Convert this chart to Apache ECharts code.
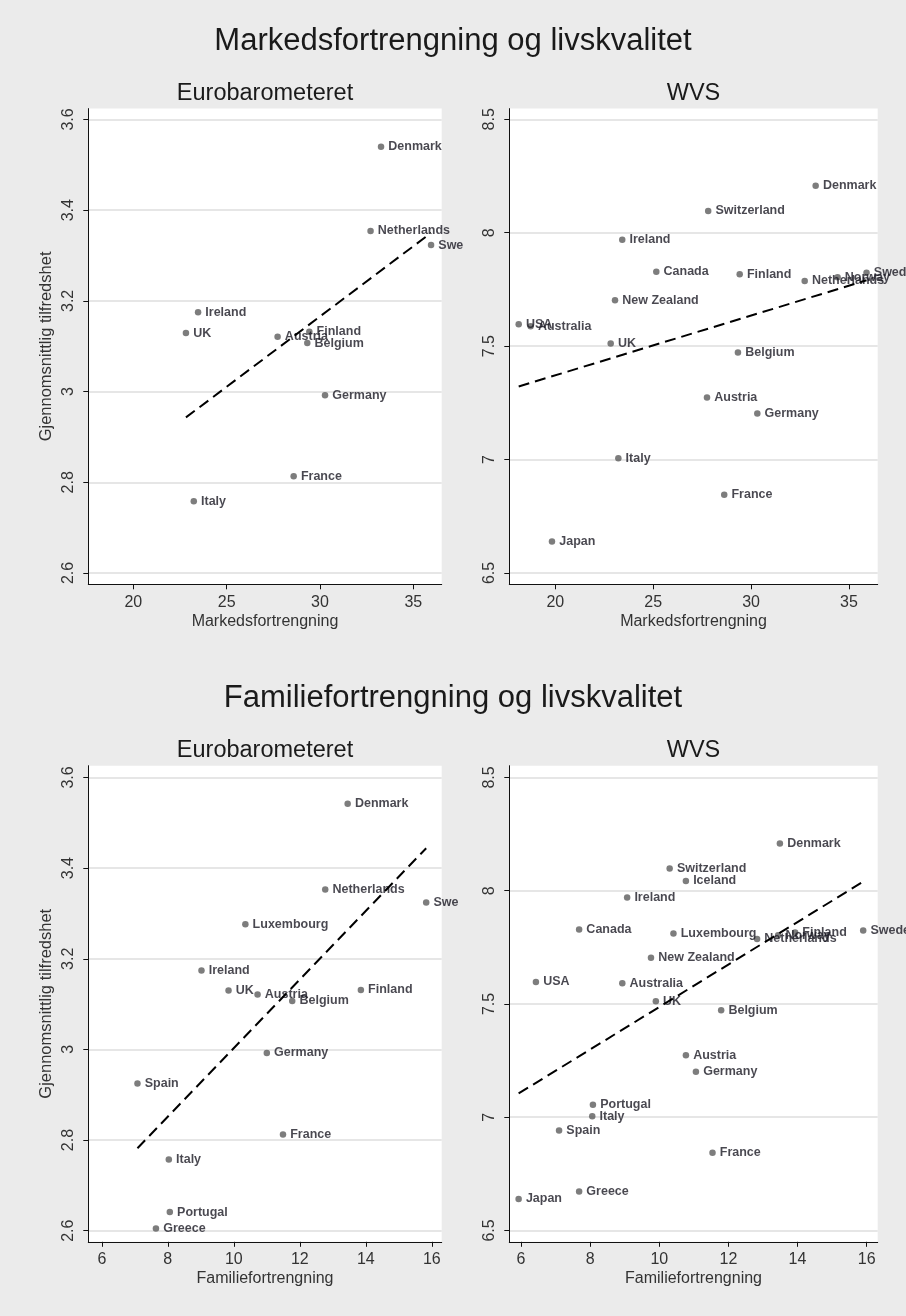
<!DOCTYPE html>
<html><head><meta charset="utf-8">
<script src="https://cdn.jsdelivr.net/npm/echarts@6/dist/echarts.min.js"></script>
<style>html,body{margin:0;padding:0;background:#ebebeb}#c{width:906px;height:1316px}</style>
</head><body><div id="c"></div>
<script>
// ---------- texts ----------
const mainTitles = ['Markedsfortrengning og livskvalitet', 'Familiefortrengning og livskvalitet'];
const panelTitles = ['Eurobarometeret', 'WVS', 'Eurobarometeret', 'WVS'];
const xTitles = ['Markedsfortrengning', 'Markedsfortrengning', 'Familiefortrengning', 'Familiefortrengning'];
const yTitle = 'Gjennomsnittlig tilfredshet';

// ---------- tick labels ----------
const xTicksMarket = [20, 25, 30, 35];
const xTicksFamily = [6, 8, 10, 12, 14, 16];
const yTicksEB = [2.6, 2.8, 3.0, 3.2, 3.4, 3.6];
const yTicksWVS = [6.5, 7, 7.5, 8, 8.5];

// ---------- data: Eurobarometeret vs Markedsfortrengning ----------
const ebMarketCountry = ['Denmark','Netherlands','Sweden','Ireland','UK','Austria','Finland','Belgium','Germany','France','Italy'];
const ebMarketX = [33.27, 32.71, 35.95, 23.47, 22.82, 27.73, 29.43, 29.32, 30.27, 28.59, 23.24];
const ebMarketY = [3.540, 3.354, 3.323, 3.175, 3.129, 3.121, 3.132, 3.107, 2.992, 2.813, 2.758];
const ebMarketFitX = [22.82, 35.95];
const ebMarketFitY = [2.943, 3.350];

// ---------- data: WVS vs Markedsfortrengning ----------
const wvsMarketCountry = ['Denmark','Switzerland','Ireland','Canada','Finland','Netherlands','Norway','Sweden','New Zealand','USA','Australia','UK','Belgium','Austria','Germany','Italy','France','Japan'];
const wvsMarketX = [33.30, 27.81, 23.42, 25.16, 29.42, 32.74, 34.42, 35.90, 23.05, 18.13, 18.74, 22.83, 29.33, 27.75, 30.32, 23.22, 28.63, 19.83];
const wvsMarketY = [8.207, 8.096, 7.969, 7.828, 7.817, 7.787, 7.803, 7.823, 7.702, 7.596, 7.588, 7.511, 7.472, 7.273, 7.203, 7.006, 6.845, 6.639];
const wvsMarketFitX = [18.13, 35.90];
const wvsMarketFitY = [7.322, 7.790];

// ---------- data: Eurobarometeret vs Familiefortrengning ----------
const ebFamilyCountry = ['Denmark','Netherlands','Sweden','Luxembourg','Ireland','UK','Austria','Belgium','Finland','Germany','Spain','France','Italy','Portugal','Greece'];
const ebFamilyX = [13.45, 12.77, 15.83, 10.35, 9.02, 9.84, 10.72, 11.77, 13.85, 11.00, 7.08, 11.49, 8.03, 8.06, 7.64];
const ebFamilyY = [3.542, 3.353, 3.324, 3.276, 3.174, 3.130, 3.121, 3.107, 3.131, 2.992, 2.925, 2.812, 2.757, 2.641, 2.605];
const ebFamilyFitX = [7.08, 15.83];
const ebFamilyFitY = [2.782, 3.444];

// ---------- data: WVS vs Familiefortrengning ----------
const wvsFamilyCountry = ['Denmark','Switzerland','Iceland','Ireland','Canada','Luxembourg','Netherlands','Norway','Finland','Sweden','New Zealand','USA','Australia','UK','Belgium','Austria','Germany','Portugal','Italy','Spain','France','Greece','Japan'];
const wvsFamilyX = [13.49, 10.30, 10.77, 9.07, 7.68, 10.41, 12.83, 13.44, 13.93, 15.90, 9.76, 6.43, 8.93, 9.90, 11.79, 10.77, 11.06, 8.08, 8.06, 7.10, 11.54, 7.68, 5.93];
const wvsFamilyY = [8.208, 8.098, 8.043, 7.970, 7.829, 7.811, 7.787, 7.803, 7.816, 7.824, 7.704, 7.597, 7.592, 7.512, 7.472, 7.274, 7.201, 7.055, 7.004, 6.941, 6.843, 6.672, 6.639];
const wvsFamilyFitX = [5.93, 15.90];
const wvsFamilyFitY = [7.105, 8.040];

// ---------- assembly ----------
const panels = [
  {names: ebMarketCountry, xs: ebMarketX, ys: ebMarketY, fx: ebMarketFitX, fy: ebMarketFitY, xt: xTicksMarket, yt: yTicksEB, xr: [17.59, 36.52], yr: [2.575, 3.624]},
  {names: wvsMarketCountry, xs: wvsMarketX, ys: wvsMarketY, fx: wvsMarketFitX, fy: wvsMarketFitY, xt: xTicksMarket, yt: yTicksWVS, xr: [17.65, 36.47], yr: [6.45, 8.547]},
  {names: ebFamilyCountry, xs: ebFamilyX, ys: ebFamilyY, fx: ebFamilyFitX, fy: ebFamilyFitY, xt: xTicksFamily, yt: yTicksEB, xr: [5.59, 16.30], yr: [2.5755, 3.626]},
  {names: wvsFamilyCountry, xs: wvsFamilyX, ys: wvsFamilyY, fx: wvsFamilyFitX, fy: wvsFamilyFitY, xt: xTicksFamily, yt: yTicksWVS, xr: [5.66, 16.32], yr: [6.45, 8.552]}
];
const gridBoxes = [
  {left: 88.3, top: 108.6, width: 353.4, height: 475.7},
  {left: 509.3, top: 108.6, width: 368.4, height: 475.7},
  {left: 88.3, top: 765.7, width: 353.4, height: 476.1},
  {left: 509.3, top: 765.7, width: 368.4, height: 476.1}
];
const FONT = '"Liberation Sans", Arial, sans-serif';
const textDark = '#1a1a1a';
const axisText = '#333333';

const chart = echarts.init(document.getElementById('c'), null, {renderer: 'canvas'});

function buildOption(labelClip) {
  const titles = [];
  titles.push({text: mainTitles[0], left: 453, top: 26, textAlign: 'center', padding: 0,
    textStyle: {fontFamily: FONT, fontSize: 31, fontWeight: 'normal', color: textDark}});
  titles.push({text: mainTitles[1], left: 453, top: 683, textAlign: 'center', padding: 0,
    textStyle: {fontFamily: FONT, fontSize: 31, fontWeight: 'normal', color: textDark}});
  const subTops = [82, 82, 739, 739];
  panels.forEach((p, i) => {
    const g = gridBoxes[i];
    titles.push({text: panelTitles[i], left: g.left + g.width / 2, top: subTops[i], textAlign: 'center', padding: 0,
      textStyle: {fontFamily: FONT, fontSize: 23.5, fontWeight: 'normal', color: textDark}});
  });

  const grid = gridBoxes.map(g => Object.assign({show: true, backgroundColor: '#ffffff', borderWidth: 0, containLabel: false}, g));

  const xAxis = panels.map((p, i) => ({
    type: 'value', gridIndex: i, min: p.xr[0], max: p.xr[1],
    name: xTitles[i], nameLocation: 'middle', nameGap: 29,
    nameTextStyle: {fontFamily: FONT, fontSize: 16, color: axisText},
    axisLine: {show: true, onZero: false, lineStyle: {color: '#111', width: 1}},
    axisTick: {show: true, length: 5, customValues: p.xt, lineStyle: {color: '#111', width: 1}},
    axisLabel: {customValues: p.xt, fontFamily: FONT, fontSize: 16, color: axisText, margin: 10},
    splitLine: {show: false}
  }));

  const yAxis = panels.map((p, i) => ({
    type: 'value', gridIndex: i, min: p.yr[0], max: p.yr[1],
    name: (i % 2 === 0) ? yTitle : '', nameLocation: 'middle', nameGap: 33,
    nameTextStyle: {fontFamily: FONT, fontSize: 16.5, color: axisText},
    axisLine: {show: true, onZero: false, lineStyle: {color: '#111', width: 1}},
    axisTick: {show: true, length: 5, customValues: p.yt, lineStyle: {color: '#111', width: 1}},
    axisLabel: {customValues: p.yt, rotate: 90, fontFamily: FONT, fontSize: 16, color: axisText, margin: 12},
    splitLine: {show: true, lineStyle: {color: '#e6e6e6', width: 2}}
  }));

  const series = [];
  panels.forEach((p, i) => {
    series.push({
      type: 'scatter', xAxisIndex: i, yAxisIndex: i, symbol: 'circle', symbolSize: 6.5,
      itemStyle: {color: '#5c5c5c'}, z: 3,
      data: p.names.map((n, k) => {
        const item = {name: n, value: [p.xs[k], p.ys[k]]};
        if (labelClip && labelClip[i] && labelClip[i][k] !== undefined) {
          item.label = {width: labelClip[i][k], overflow: 'truncate', ellipsis: ''};
        }
        return item;
      }),
      label: {show: true, position: 'right', distance: 4, formatter: '{b}',
        fontFamily: FONT, fontSize: 12.5, fontWeight: 'bold', color: '#1c1a24'},
      emphasis: {disabled: true}, animation: false
    });
    series.push({
      type: 'line', xAxisIndex: i, yAxisIndex: i, symbol: 'none', silent: true, z: 4,
      data: p.fx.map((x, k) => [x, p.fy[k]]),
      lineStyle: {color: '#000', width: 2, type: [11, 6]}, animation: false
    });
  });

  return {backgroundColor: '#ebebeb', animation: false, title: titles, grid, xAxis, yAxis, series};
}

chart.setOption(buildOption(null));

// Clip labels of the left-hand panels at the edge of their graph region (as in the original)
const clipX = 466;
const labelClip = {};
[0, 2].forEach(i => {
  const p = panels[i];
  labelClip[i] = p.names.map((n, k) => {
    const px = chart.convertToPixel({gridIndex: i}, [p.xs[k], p.ys[k]])[0];
    const start = px + 3.25 + 4;
    const avail = clipX - start;
    return avail < 70 ? Math.max(0, avail) : undefined;
  });
});
chart.setOption(buildOption(labelClip), true);
</script>
</body></html>
